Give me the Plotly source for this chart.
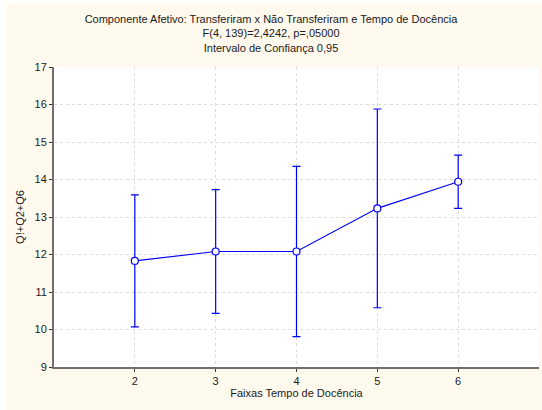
import plotly.graph_objects as go

# Faixas de tempo de docência e médias com intervalo de confiança de 95%
faixas = [2, 3, 4, 5, 6]
medias = [11.83, 12.08, 12.08, 13.23, 13.94]
ic95 = [1.76, 1.65, 2.27, 2.65, 0.71]
y_ticks = [9, 10, 11, 12, 13, 14, 15, 16, 17]

titulo = ("Componente Afetivo: Transferiram x Não Transferiram e Tempo de Docência"
          "<br>F(4, 139)=2,4242, p=,05000"
          "<br>Intervalo de Confiança 0,95")

W, H = 542, 410
ML, MR, MT, MB = 54, 3, 67, 43
PW, PH = W - ML - MR, H - MT - MB


def px_x(p):
    return (p - ML) / PW


def px_y(p):
    return (H - MB - p) / PH


FONT = "Liberation Sans, Arial, sans-serif"
CREAM = "#FFF9EE"
BLUE = "#0000FF"
GRID = "#DCDCDC"

fig = go.Figure()
fig.add_trace(go.Scatter(
    x=faixas, y=medias, mode="lines+markers",
    line=dict(color=BLUE, width=1.1),
    marker=dict(symbol="circle", size=7, color="white",
                line=dict(color=BLUE, width=1.2)),
    error_y=dict(type="data", array=ic95, visible=True,
                 color=BLUE, thickness=1.2, width=4),
    showlegend=False, hoverinfo="x+y",
))

axis_font = dict(family=FONT, size=11, color="#1a1a1a")

fig.update_layout(
    width=W, height=H,
    margin=dict(l=ML, r=MR, t=MT, b=MB, pad=0),
    paper_bgcolor=CREAM, plot_bgcolor="white",
    font=axis_font,
    title=dict(text=titulo, x=0.5, xref="container", xanchor="center",
               y=1 - 23 / H, yref="container", yanchor="top",
               font=dict(family=FONT, size=11, color="#1a1a1a")),
    xaxis=dict(range=[1, 7], tickmode="array", tickvals=faixas,
               ticks="outside", ticklen=3, tickcolor="#333",
               showline=True, linecolor="#6f6f6f", linewidth=2,
               showgrid=True, gridcolor=GRID, griddash="dot", gridwidth=1,
               zeroline=False, tickfont=axis_font,
               title=dict(text="Faixas Tempo de Docência", font=axis_font,
                          standoff=3)),
    yaxis=dict(range=[9, 17], tickmode="array", tickvals=y_ticks,
               ticks="outside", ticklen=3, tickcolor="#333",
               showline=True, linecolor="#6f6f6f", linewidth=2,
               showgrid=True, gridcolor=GRID, griddash="dot", gridwidth=1,
               zeroline=False, tickfont=axis_font,
               title=dict(text="Q!+Q2+Q6", font=axis_font, standoff=8)),
    xaxis2=dict(overlaying="x", side="top", range=[1, 7], tickmode="array",
                tickvals=faixas, ticks="inside", ticklen=3, tickcolor="#333",
                showticklabels=False, showline=True, linecolor="black",
                linewidth=1, showgrid=False, zeroline=False),
    yaxis2=dict(overlaying="y", side="right", range=[9, 17], tickmode="array",
                tickvals=y_ticks, ticks="inside", ticklen=3, tickcolor="#333",
                showticklabels=False, showline=True, linecolor="black",
                linewidth=1, showgrid=False, zeroline=False),
    shapes=[
        # white page strips around the cream panel
        dict(type="rect", xref="paper", yref="paper",
             x0=px_x(-5), x1=px_x(W + 5), y0=px_y(4), y1=px_y(-5),
             fillcolor="white", line=dict(width=0), layer="below"),
        dict(type="rect", xref="paper", yref="paper",
             x0=px_x(-5), x1=px_x(6), y0=px_y(H + 5), y1=px_y(-5),
             fillcolor="white", line=dict(width=0), layer="below"),
    ],
)

fig.write_html("out.html")
